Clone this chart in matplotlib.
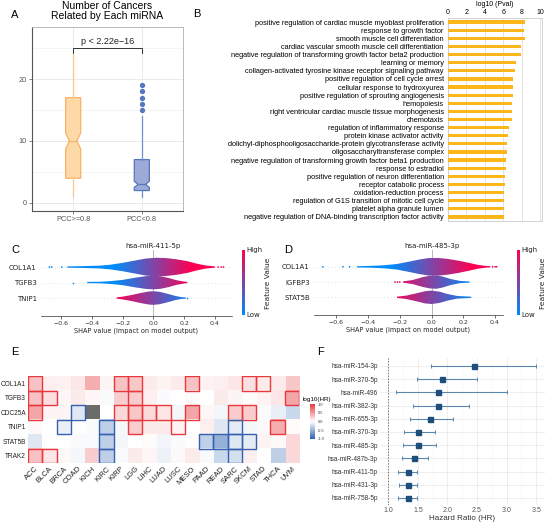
import matplotlib
matplotlib.use('Agg')
import matplotlib.pyplot as plt
import numpy as np
from matplotlib.colors import LinearSegmentedColormap, Normalize
from matplotlib.patches import Polygon, Rectangle

W, H = 546, 524
ARIAL = 'Liberation Sans'

# ---------------- panel A : number of cancers per miRNA ----------------
box_groups = ['PCC>=0.8', 'PCC<0.8']
box_med = [10, 3]
box_q1 = [4, 2]
box_q3 = [17, 7]
box_lo = [1, 1]
box_hi = [24, 14]
box_notch_lo = [8.7, 2.5]
box_notch_hi = [11.3, 3.5]
box_outliers = [[], [15, 16, 17, 18, 19]]

# ---------------- panel B : GO enrichment ----------------
go_terms = [
    'positive regulation of cardiac muscle myoblast proliferation',
    'response to growth factor',
    'smooth muscle cell differentiation',
    'cardiac vascular smooth muscle cell differentiation',
    'negative regulation of transforming growth factor beta2 production',
    'learning or memory',
    'collagen-activated tyrosine kinase receptor signaling pathway',
    'positive regulation of cell cycle arrest',
    'cellular response to hydroxyurea',
    'positive regulation of sprouting angiogenesis',
    'hemopoiesis',
    'right ventricular cardiac muscle tissue morphogenesis',
    'chemotaxis',
    'regulation of inflammatory response',
    'protein kinase activator activity',
    'dolichyl-diphosphooligosaccharide-protein glycotransferase activity',
    'oligosaccharyltransferase complex',
    'negative regulation of transforming growth factor beta1 production',
    'response to estradiol',
    'positive regulation of neuron differentiation',
    'receptor catabolic process',
    'oxidation-reduction process',
    'regulation of G1S transition of mitotic cell cycle',
    'platelet alpha granule lumen',
    'negative regulation of DNA-binding transcription factor activity',
]
go_logp = [8.37, 8.3, 8.33, 7.97, 7.97, 7.36, 7.25, 7.1, 7.07, 7.03, 6.92, 6.92, 6.92,
           6.67, 6.56, 6.38, 6.38, 6.3, 6.27, 6.2, 6.2, 6.12, 6.12, 6.05, 6.05]

# ---------------- panels C / D : SHAP summaries (envelope) ----------------
c_title = 'hsa-miR-411-5p'
c_genes = ['COL1A1', 'TGFB3', 'TNIP1']
c_x = [[-0.56, -0.45, -0.35, -0.28, -0.20, -0.12, -0.05, 0.02, 0.08, 0.15, 0.22, 0.28, 0.34, 0.40],
       [-0.43, -0.35, -0.28, -0.20, -0.12, -0.05, 0.0, 0.05, 0.10, 0.15, 0.20, 0.22],
       [-0.24, -0.20, -0.14, -0.08, -0.03, 0.0, 0.04, 0.09, 0.14, 0.18, 0.21]]
c_w = [[0.04, 0.06, 0.09, 0.15, 0.27, 0.42, 0.55, 0.60, 0.58, 0.50, 0.38, 0.22, 0.10, 0.04],
       [0.04, 0.05, 0.09, 0.17, 0.31, 0.41, 0.44, 0.40, 0.29, 0.15, 0.06, 0.04],
       [0.04, 0.09, 0.20, 0.33, 0.42, 0.44, 0.40, 0.28, 0.14, 0.06, 0.04]]
c_sign = [1, 1, -1]
c_dots = [[-0.675, -0.66, -0.595, 0.42, 0.44, 0.455], [-0.52], [0.22]]

d_title = 'hsa-miR-485-3p'
d_genes = ['COL1A1', 'IGFBP3', 'STAT5B']
d_x = [[-0.47, -0.38, -0.30, -0.22, -0.15, -0.08, -0.02, 0.04, 0.10, 0.17, 0.23, 0.29, 0.34, 0.37],
       [-0.18, -0.12, -0.06, -0.01, 0.03, 0.07, 0.12, 0.18, 0.24],
       [-0.22, -0.16, -0.10, -0.04, 0.0, 0.05, 0.10, 0.16, 0.25]]
d_w = [[0.04, 0.06, 0.10, 0.18, 0.32, 0.47, 0.57, 0.58, 0.52, 0.40, 0.27, 0.13, 0.06, 0.04],
       [0.04, 0.13, 0.31, 0.42, 0.44, 0.36, 0.20, 0.07, 0.04],
       [0.04, 0.11, 0.25, 0.40, 0.44, 0.37, 0.22, 0.09, 0.04]]
d_sign = [1, -1, -1]
d_dots = [[-0.684, -0.558, -0.516, 0.385, 0.40, 0.41], [-0.23, -0.215, -0.2], []]

# ---------------- panel E : log10(HR) heatmap ----------------
cancers = ['ACC', 'BLCA', 'BRCA', 'COAD', 'KICH', 'KIRC', 'KIRP', 'LGG', 'LIHC', 'LUAD',
           'LUSC', 'MESO', 'PAAD', 'READ', 'SARC', 'SKCM', 'STAD', 'THCA', 'UVM']
genes_e = ['COL1A1', 'TGFB3', 'CDC25A', 'TNIP1', 'STAT5B', 'TRAK2']
log_hr = [
    [0.30, 0.08, 0.07, 0.12, 0.40, 0.05, 0.30, 0.28, 0.10, 0.06, 0.10, 0.30, 0.07, 0.08, 0.12, 0.15, 0.10, 0.10, 0.28],
    [0.30, 0.15, 0.04, 0.10, 0.04, -0.03, 0.25, 0.25, 0.08, -0.02, 0.00, 0.02, 0.00, 0.10, 0.05, 0.02, 0.06, 0.12, 0.45],
    [0.45, 0.05, 0.05, -0.15, np.nan, 0.00, 0.20, 0.28, 0.18, 0.12, -0.05, 0.45, 0.04, -0.05, 0.25, 0.25, -0.02, -0.10, -0.25],
    [0.03, 0.00, -0.10, 0.00, -0.02, -0.30, -0.04, 0.25, 0.10, 0.10, 0.06, 0.00, 0.08, -0.15, -0.12, -0.05, 0.03, 0.40, 0.02],
    [-0.15, 0.00, 0.00, -0.03, -0.03, -0.30, -0.05, 0.00, 0.02, -0.06, -0.02, 0.00, -0.30, -0.50, -0.15, -0.12, 0.06, 0.03, 0.20],
    [0.30, 0.12, 0.03, -0.04, 0.25, -0.30, -0.03, 0.10, 0.04, -0.08, 0.03, 0.10, -0.03, -0.25, -0.20, 0.08, 0.00, -0.30, 0.20],
]
# 1 = significant risk (red box), -1 = significant protective (blue box)
sig = [
    [1, 0, 0, 0, 0, 0, 1, 1, 0, 0, 0, 1, 0, 0, 0, 1, 1, 0, 0],
    [1, 1, 0, 0, 0, 0, 0, 1, 0, 0, 0, 0, 0, 0, 0, 0, 0, 0, 1],
    [1, 0, 0, -1, 0, 0, 1, 1, 1, 1, 0, 1, 0, 0, 1, 1, 0, 0, 0],
    [0, 0, -1, 0, 0, -1, 0, 1, 0, 0, 1, 0, 0, 0, -1, 0, 0, 1, 0],
    [0, 0, 0, 0, 0, -1, 0, 0, 0, 0, 0, 0, -1, -1, -1, -1, 0, 0, 0],
    [1, 1, 0, 0, 0, -1, 0, 0, 0, 0, 0, 0, 0, 0, -1, 0, 0, 0, 0],
]

# ---------------- panel F : forest plot ----------------
mirnas = ['hsa-miR-154-3p', 'hsa-miR-370-5p', 'hsa-miR-496', 'hsa-miR-382-3p', 'hsa-miR-655-3p',
          'hsa-miR-370-3p', 'hsa-miR-485-3p', 'hsa-miR-487b-3p', 'hsa-miR-411-5p', 'hsa-miR-431-3p',
          'hsa-miR-758-5p']
hr = [2.45, 1.91, 1.84, 1.84, 1.70, 1.50, 1.50, 1.44, 1.33, 1.33, 1.33]
hr_low = [1.72, 1.49, 1.13, 1.42, 1.37, 1.27, 1.25, 1.23, 1.17, 1.18, 1.16]
hr_high = [3.49, 2.50, 3.00, 2.36, 2.10, 1.79, 1.80, 1.67, 1.49, 1.48, 1.49]


fig = plt.figure(figsize=(W / 100, H / 100), dpi=100)


def px_axes(x0, y0, x1, y1):
    return fig.add_axes([x0 / W, 1 - y1 / H, (x1 - x0) / W, (y1 - y0) / H])


def px_text(x, y, s, **kw):
    fig.text(x / W, 1 - y / H, s, **kw)


for lab, (lx, ly) in zip('ABCDEF', [(15, 15), (197, 14), (15, 250), (288, 250), (15, 352), (321, 352)]):
    px_text(lx, ly, lab, fontsize=8, family=ARIAL, ha='center', va='center')

# ===== A =====
axA = px_axes(32, 27, 183, 211)
stats = []
for i in range(2):
    stats.append(dict(label=box_groups[i], med=box_med[i], q1=box_q1[i], q3=box_q3[i],
                      whislo=box_lo[i], whishi=box_hi[i], fliers=box_outliers[i],
                      cilo=box_notch_lo[i], cihi=box_notch_hi[i]))
bp = axA.bxp(stats, positions=[1, 2], widths=0.22, shownotches=True, patch_artist=True,
             showcaps=False, zorder=3)
face = ['#fdd9a8', '#9da9d6']
edge = ['#f6b267', '#5478bb']
whisk = ['#f9c68d', '#6f8fcb']
for i in range(2):
    bp['boxes'][i].set(facecolor=face[i], edgecolor=edge[i], linewidth=0.9)
    bp['medians'][i].set(color=edge[i], linewidth=0.9)
    for wl in bp['whiskers'][2 * i:2 * i + 2]:
        wl.set(color=whisk[i], linewidth=0.9)
    bp['fliers'][i].set(marker='o', markerfacecolor=edge[i], markeredgecolor=edge[i], markersize=2.8)
axA.set_xlim(0.4, 2.6)
axA.set_ylim(-1.3, 28.4)
axA.set_yticks([0, 10, 20])
axA.set_yticks([5, 15, 25], minor=True)
axA.grid(True, which='major', color='#e6e6e6', lw=0.6, zorder=0)
axA.grid(True, which='minor', axis='y', color='#f0f0f0', lw=0.5, zorder=0)
axA.set_axisbelow(True)
axA.tick_params(axis='both', labelsize=5.3, colors='#555555', length=2, width=0.5, pad=1.5)
axA.tick_params(axis='y', which='minor', length=0)
for lbl in axA.get_xticklabels() + axA.get_yticklabels():
    lbl.set_family(ARIAL)
for s in ['top', 'right']:
    axA.spines[s].set_color('#b0b0b0')
    axA.spines[s].set_linewidth(0.6)
for s in ['left', 'bottom']:
    axA.spines[s].set_color('#555555')
    axA.spines[s].set_linewidth(0.8)
axA.plot([1, 1, 2, 2], [24.2, 25, 25, 24.2], color='#333333', lw=0.7)
axA.text(1.5, 25.4, 'p < 2.22e\u221216', ha='center', va='bottom', fontsize=6.5, family=ARIAL, color='#222222')
px_text(107, 11, 'Number of Cancers\nRelated by Each miRNA', ha='center', va='center',
        fontsize=7.5, family=ARIAL, linespacing=1.05)

# ===== B =====
axB = px_axes(448, 18, 542, 221)
yB = np.arange(len(go_terms))
axB.barh(yB, go_logp, height=0.4, color='#fbb61a', zorder=3)
axB.set_ylim(len(go_terms) - 0.5, -0.5)
axB.set_xlim(0, 10.2)
axB.set_xticks([0, 2, 4, 6, 8, 10])
axB.xaxis.tick_top()
axB.xaxis.set_label_position('top')
axB.set_xlabel('log10 (Pval)', fontsize=5, family=ARIAL, labelpad=2)
axB.set_yticks(yB)
axB.set_yticklabels(go_terms, fontsize=5.3, family=ARIAL)
axB.tick_params(axis='x', labelsize=5, length=0, pad=1.5)
axB.tick_params(axis='y', length=0, pad=3)
for lbl in axB.get_xticklabels():
    lbl.set_family(ARIAL)
axB.grid(True, axis='x', color='#dddddd', lw=0.6, zorder=0)
for s in axB.spines.values():
    s.set_color('#cccccc')
    s.set_linewidth(0.6)

# ===== C / D =====
shap_cmap = LinearSegmentedColormap.from_list('shap', ['#008bfb', '#ff0051'])
shap_norm = Normalize(-0.25, 0.25)


def draw_shap(ax, cax, title, genes, xs, ws, signs, dots, xlim, cbx):
    n = len(genes)
    for i in range(n):
        yv = n - 1 - i
        ax.axhline(yv, color='#cccccc', lw=0.5, dashes=(1, 4), zorder=0)
        x = np.array(xs[i])
        w = np.array(ws[i])
        verts = np.column_stack([np.r_[x, x[::-1]], np.r_[yv + w, (yv - w)[::-1]]])
        poly = Polygon(verts, closed=True, facecolor='none', edgecolor='none')
        ax.add_patch(poly)
        grad = np.linspace(x.min(), x.max(), 256)[None, :] * signs[i]
        im = ax.imshow(grad, cmap=shap_cmap, norm=shap_norm, aspect='auto',
                       extent=[x.min(), x.max(), yv - 0.7, yv + 0.7], interpolation='bilinear', zorder=2)
        im.set_clip_path(poly)
        if dots[i]:
            d = np.array(dots[i])
            ax.scatter(d, np.full(len(d), yv), s=1.5, c=d * signs[i], cmap=shap_cmap, norm=shap_norm,
                       linewidths=0, zorder=3)
    ax.axvline(0, color='#999999', lw=0.5, zorder=1)
    ax.set_xlim(*xlim)
    ax.set_ylim(-1.16, 3.1)
    ax.set_yticks(range(n))
    ax.set_yticklabels(genes[::-1], fontsize=5, color='#222222')
    ax.set_xticks([-0.6, -0.4, -0.2, 0.0, 0.2, 0.4])
    ax.tick_params(axis='y', length=0, pad=3)
    ax.tick_params(axis='x', labelsize=4.5, length=2, width=0.5, colors='#333333', pad=1.5)
    for s in ['top', 'right', 'left']:
        ax.spines[s].set_visible(False)
    ax.spines['bottom'].set_color('#333333')
    ax.spines['bottom'].set_linewidth(0.5)
    ax.set_xlabel('SHAP value (impact on model output)', fontsize=4.7, labelpad=1.5, color='#222222')
    ax.text(0, 1.06, title, transform=ax.get_xaxis_transform(), ha='center', va='center',
            fontsize=5, color='#222222')
    cax.imshow(np.linspace(0, 1, 256)[:, None], cmap=shap_cmap, aspect='auto', origin='lower')
    cax.axis('off')
    px_text(cbx + 3, 250, 'High', fontsize=5, va='center', ha='left', color='#222222')
    px_text(cbx + 3, 315, 'Low', fontsize=5, va='center', ha='left', color='#222222')
    px_text(cbx + 25, 283, 'Feature Value', fontsize=5.4, rotation=90, ha='center', va='center',
            color='#222222')


axC = px_axes(41, 250, 232, 316)
caxC = px_axes(242, 250, 244.5, 315)
draw_shap(axC, caxC, c_title, c_genes, c_x, c_w, c_sign, c_dots, (-0.73, 0.51), 243)

axD = px_axes(314, 250, 503, 315)
caxD = px_axes(517, 250, 519.5, 315)
draw_shap(axD, caxD, d_title, d_genes, d_x, d_w, d_sign, d_dots, (-0.74, 0.45), 518)

# ===== E =====
axE = px_axes(28, 376, 299, 463)
hr_cmap = LinearSegmentedColormap.from_list('hr', ['#2c63b0', '#ffffff', '#e8383d'])
hr_cmap.set_bad('#6b6b6b')
vals = np.ma.masked_invalid(np.array(log_hr))
axE.imshow(vals, cmap=hr_cmap, vmin=-1, vmax=1, aspect='auto', interpolation='nearest')
for i in range(len(genes_e)):
    for j in range(len(cancers)):
        if sig[i][j] != 0:
            col = '#e8383d' if sig[i][j] > 0 else '#3560b0'
            axE.add_patch(Rectangle((j - 0.5, i - 0.5), 1, 1, fill=False, edgecolor=col, lw=1.0, zorder=3))
axE.set_xticks(range(len(cancers)))
axE.set_xticklabels(cancers, rotation=45, ha='right', va='top', rotation_mode='anchor',
                    fontsize=5.5, family=ARIAL, color='#222222')
axE.set_yticks(range(len(genes_e)))
axE.set_yticklabels(genes_e, fontsize=4.7, family=ARIAL, color='#222222')
axE.tick_params(length=0, pad=1.5)
for s in axE.spines.values():
    s.set_visible(False)
axE.set_xlim(-0.5, len(cancers) - 0.5)
axE.set_ylim(len(genes_e) - 0.5, -0.5)

caxE = px_axes(310, 404, 315, 439)
caxE.imshow(np.linspace(1, -1, 256)[:, None], cmap=hr_cmap, vmin=-1, vmax=1, aspect='auto',
            extent=[0, 1, -1, 1])
caxE.set_xticks([])
caxE.yaxis.tick_right()
caxE.set_yticks([1, 0.5, 0, -0.5, -1])
caxE.set_yticklabels(['1.0', '0.5', '0.0', '-0.5', '-1.0'], fontsize=2.8, family=ARIAL, color='#333333')
caxE.tick_params(axis='y', length=1, width=0.3, pad=1, color='white')
for s in caxE.spines.values():
    s.set_visible(False)
px_text(317, 399, 'log10(HR)', fontsize=4.5, family=ARIAL, ha='center', va='center')

# ===== F =====
axF = px_axes(380, 358, 545, 505)
yF = np.arange(len(mirnas))
hr_a = np.array(hr)
axF.errorbar(hr_a, yF, xerr=[hr_a - np.array(hr_low), np.array(hr_high) - hr_a], fmt='none',
             ecolor='#5b87ad', elinewidth=0.8, capsize=1.6, capthick=0.7, zorder=3)
axF.plot(hr_a, yF, 's', color='#1d4f7a', markersize=3.6, zorder=4)
axF.axvline(1.0, color='#777777', lw=0.7, dashes=(1.5, 1.5), zorder=2)
axF.set_xlim(0.86, 3.65)
axF.set_ylim(len(mirnas) - 0.47, -0.6)
axF.set_xticks([1.0, 1.5, 2.0, 2.5, 3.0, 3.5])
axF.set_xticklabels(['1.0', '1.5', '2.0', '2.5', '3.0', '3.5'])
axF.set_xticks([1.25, 1.75, 2.25, 2.75, 3.25], minor=True)
axF.set_yticks(yF)
axF.set_yticklabels(mirnas, fontsize=4.7, family=ARIAL, color='#333333')
axF.grid(True, which='major', color='#e8e8e8', lw=0.5, zorder=0)
axF.grid(True, which='minor', axis='x', color='#f3f3f3', lw=0.4, zorder=0)
axF.tick_params(axis='both', which='both', length=0, pad=1.5)
axF.tick_params(axis='x', labelsize=5, colors='#555555')
for lbl in axF.get_xticklabels():
    lbl.set_family(ARIAL)
for s in axF.spines.values():
    s.set_visible(False)
axF.set_xlabel('Hazard Ratio (HR)', fontsize=5.8, family=ARIAL, labelpad=1, color='#333333')

fig.savefig('out.png', dpi=100)
